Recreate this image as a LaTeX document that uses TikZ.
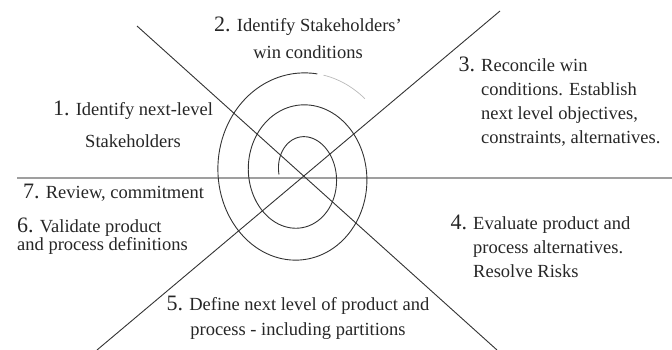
\documentclass[tikz,border=0pt]{standalone}
\usepackage{fontspec}
\setmainfont{Liberation Serif}
\usetikzlibrary{positioning}

% bigger step numbers
\newcommand{\stepno}[1]{{\fontsize{22}{22}\selectfont #1.}}

\tikzset{
  steptext/.style={inner sep=0pt, text=black!85, font=\fontsize{18.5}{24}\selectfont},
  axisline/.style={black!80, line width=0.9pt},
  spiralline/.style={black!80, line width=0.9pt}
}

\begin{document}
\begin{tikzpicture}[x=1pt,y=-1pt]
\useasboundingbox (0,0) rectangle (672,350);
% Axes of the four quadrants
\coordinate (hl) at (17,178);
\coordinate (hr) at (672,178);
\coordinate (dtl) at (137,26);
\coordinate (dbr) at (497,350);
\coordinate (dbl) at (97,350);
\coordinate (dtr) at (500,11);
\draw[gray!75, line width=1.6pt] (hl) -- (hr);
\draw[axisline] (dtl) -- (dbr);
\draw[axisline] (dbl) -- (dtr);
% Spiral (elliptic, grows outwards clockwise)
\draw[spiralline] plot[domain=180:-641, samples=260, variable=\t]
  ({300+(21+(180-\t)*0.0847)*cos(\t)}, {174.5-(37.5+(90-\t)*0.0889)*sin(\t)});
\draw[gray!55, line width=0.7pt] plot[domain=-645:-674, samples=30, variable=\t]
  ({300+(21+(180-\t)*0.0847)*cos(\t)}, {174.5-(37.5+(90-\t)*0.0889)*sin(\t)});
% Step labels
\node[steptext, align=center, font=\fontsize{18.5}{32}\selectfont] (s1) at (133,124)
  {\stepno{1} Identify next-level\\Stakeholders};
\node[steptext, align=center, font=\fontsize{18.5}{27}\selectfont] (s2) at (308,38)
  {\stepno{2} Identify Stakeholders'\\win conditions};
\node[steptext, align=left, anchor=west] (s3) at (481,102)
  {\llap{\stepno{3} }Reconcile win\\conditions. Establish\\next level objectives,\\constraints, alternatives.};
\node[steptext, align=left, anchor=west] (s4) at (473,246)
  {\llap{\stepno{4} }Evaluate product and\\process alternatives.\\Resolve Risks};
\node[steptext, align=center, font=\fontsize{18.5}{25}\selectfont] (s5) at (298,318)
  {\stepno{5} Define next level of product and\\process - including partitions};
\node[steptext, align=left, anchor=west, font=\fontsize{18.5}{18}\selectfont] (s6) at (17,236)
  {\stepno{6} Validate product\\and process definitions};
\node[steptext, anchor=west] (s7) at (23,193) {\stepno{7} Review, commitment};
\end{tikzpicture}
\end{document}
